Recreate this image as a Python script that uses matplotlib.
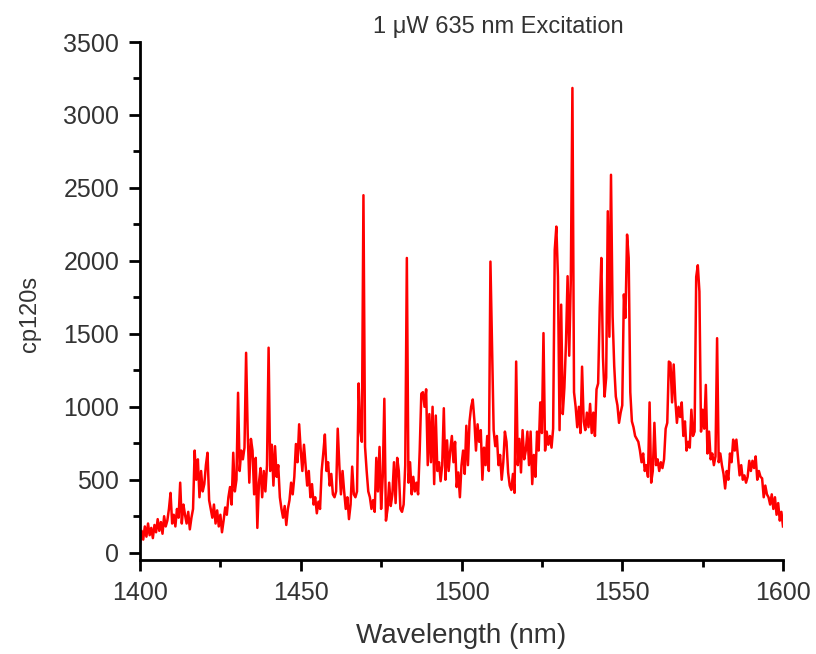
import numpy as np
import matplotlib
matplotlib.use("Agg")
import matplotlib.pyplot as plt

plt.rcParams['font.family'] = ['Liberation Sans', 'DejaVu Sans']

# wavelength grid, 0.5 nm step
wavelength = np.arange(1400, 1600.01, 0.5)

# counts, 20 values per 10 nm
counts = [
    # 1400
    60, 150, 90, 180, 110, 200, 120, 170, 100, 190, 140, 230, 150, 210, 130, 250, 180, 220, 300, 410,
    # 1410
    200, 260, 180, 300, 240, 480, 200, 330, 260, 200, 280, 160, 240, 300, 700, 500, 640, 380, 560, 420,
    # 1420
    470, 600, 685, 360, 300, 240, 330, 200, 290, 180, 260, 140, 220, 310, 260, 380, 450, 330, 685, 420,
    # 1430
    500, 1096, 560, 700, 640, 720, 1370, 820, 480, 780, 700, 400, 650, 170, 480, 580, 380, 560, 420, 600,
    # 1440
    1405, 560, 740, 460, 730, 520, 600, 380, 300, 240, 320, 190, 300, 360, 480, 400, 520, 745, 620, 880,
    # 1450
    700, 560, 740, 600, 460, 560, 380, 470, 330, 380, 270, 350, 300, 560, 680, 810, 560, 620, 460, 540,
    # 1460
    400, 380, 420, 850, 600, 400, 560, 420, 300, 380, 230, 330, 590, 400, 380, 420, 1160, 836, 760, 2450,
    # 1470
    725, 560, 420, 380, 300, 360, 280, 650, 420, 725, 300, 520, 1055, 220, 300, 480, 320, 400, 620, 340,
    # 1480
    650, 560, 300, 280, 330, 600, 2020, 480, 620, 400, 520, 420, 480, 400, 700, 1090, 1100, 1000, 1120, 600,
    # 1490
    950, 620, 1000, 470, 940, 560, 620, 490, 600, 990, 500, 770, 560, 700, 800, 620, 760, 450, 550, 380,
    # 1500
    600, 700, 540, 870, 600, 900, 1000, 1050, 910, 700, 880, 760, 840, 500, 720, 600, 800, 560, 1995, 1400,
    # 1510
    840, 730, 800, 600, 670, 500, 620, 830, 760, 550, 460, 430, 540, 410, 1310, 600, 780, 550, 840, 640,
    # 1520
    700, 830, 600, 830, 470, 670, 520, 830, 700, 1030, 820, 1505, 700, 830, 740, 800, 720, 850, 2075, 2235,
    # 1530
    1890, 840, 1700, 950, 1130, 1440, 1895, 1350, 1870, 3185, 1100, 1000, 860, 1000, 820, 1275, 900, 840, 960, 860,
    # 1540
    1020, 820, 960, 800, 1120, 1160, 1680, 2020, 1340, 1070, 1200, 2340, 1480, 2590, 1620, 1280, 1070, 1010, 890, 960,
    # 1550
    1010, 1770, 1610, 2180, 2020, 1100, 900, 860, 800, 780, 760, 700, 620, 680, 560, 600, 520, 1030, 480, 560,
    # 1560
    890, 600, 640, 560, 620, 580, 640, 850, 890, 1310, 1300, 1030, 1290, 1050, 890, 1000, 930, 1030, 800, 900,
    # 1570
    700, 760, 720, 980, 800, 830, 1890, 1970, 1790, 830, 980, 850, 1150, 680, 830, 640, 680, 600, 660, 1470,
    # 1580
    620, 680, 600, 540, 440, 560, 500, 680, 620, 775, 700, 775, 650, 530, 600, 500, 530, 480, 520, 630,
    # 1590
    560, 630, 580, 660, 500, 560, 520, 510, 380, 460, 400, 380, 330, 400, 300, 380, 260, 340, 220, 280, 180,
]

x_ticks = [1400, 1450, 1500, 1550, 1600]
y_ticks = [0, 500, 1000, 1500, 2000, 2500, 3000, 3500]

fig = plt.figure(figsize=(8.16, 6.54), dpi=100)
ax = fig.add_axes([140 / 816, 1 - 560 / 654, 643 / 816, 518 / 654])

ax.plot(wavelength, counts, color='#ff0000', linewidth=1.8)

ax.set_xlim(1400, 1600)
ax.set_ylim(-50, 3500)
ax.set_xticks(x_ticks)
ax.set_yticks(y_ticks)
ax.set_xticks(np.arange(1425, 1600, 50), minor=True)
ax.set_yticks(np.arange(250, 3500, 500), minor=True)

for s in ['top', 'right']:
    ax.spines[s].set_visible(False)
for s in ['left', 'bottom']:
    ax.spines[s].set_linewidth(2)

ax.tick_params(which='major', direction='out', length=8, width=2, labelsize=18, pad=7, colors='black')
ax.tick_params(which='minor', direction='out', length=5, width=2)
ax.tick_params(labelcolor='#333333')

ax.set_xlabel("Wavelength (nm)", fontsize=20, va='center', color='#333333')
ax.set_ylabel("cp120s", fontsize=17, va='center', color='#333333')
ax.xaxis.set_label_coords((461 - 140) / 643, (560 - 636) / 518)
ax.yaxis.set_label_coords((30 - 140) / 643, (560 - 314) / 518)

fig.text(498 / 816, 1 - 27 / 654, "1 μW 635 nm Excitation", fontsize=17,
         ha='center', va='center', color='#333333')

fig.savefig("out.png", dpi=100)
